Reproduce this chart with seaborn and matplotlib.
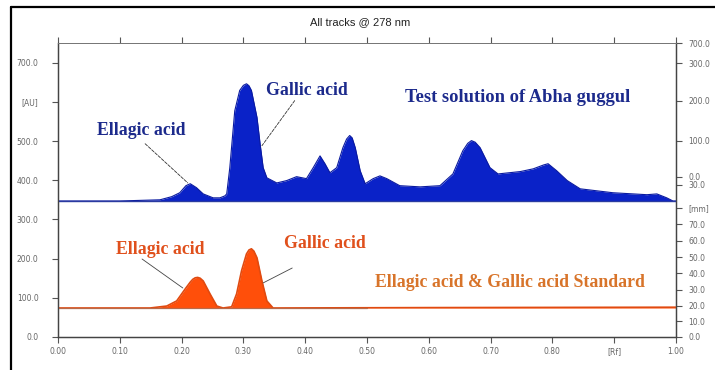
import matplotlib
matplotlib.use("Agg")
import matplotlib.pyplot as plt
import seaborn as sns
import pandas as pd
from matplotlib.lines import Line2D

# ---------------- data ----------------
title = "All tracks @ 278 nm"

blue_base = 347.0
blue_rf = [0.000, 0.100, 0.165, 0.184, 0.197, 0.207, 0.214, 0.224, 0.235, 0.251,
           0.262, 0.270, 0.273, 0.278, 0.286, 0.294, 0.300, 0.305, 0.309, 0.313,
           0.322, 0.327, 0.332, 0.338, 0.354, 0.370, 0.386, 0.402, 0.413, 0.424,
           0.432, 0.440, 0.451, 0.461, 0.467, 0.472, 0.476, 0.481, 0.489, 0.497,
           0.510, 0.521, 0.532, 0.553, 0.586, 0.618, 0.639, 0.655, 0.663, 0.669,
           0.675, 0.683, 0.699, 0.712, 0.748, 0.769, 0.786, 0.793, 0.807, 0.824,
           0.845, 0.898, 0.953, 0.969, 0.985, 0.995, 1.000]
blue_au = [347, 347, 350, 358, 368, 386, 391, 381, 365, 355,
           355, 360, 365, 432, 577, 629, 642, 646, 641, 629,
           560, 493, 432, 406, 393, 399, 409, 404, 432, 462,
           442, 419, 432, 483, 505, 514, 508, 483, 424, 391,
           404, 411, 404, 386, 383, 386, 416, 475, 494, 501,
           497, 483, 432, 416, 422, 429, 439, 442, 424, 399,
           378, 368, 363, 365, 355, 347, 347]

orange_base = 74.0
orange_rf = [0.000, 0.149, 0.165, 0.176, 0.192, 0.206, 0.214, 0.218, 0.222, 0.226,
             0.230, 0.235, 0.246, 0.257, 0.267, 0.281, 0.289, 0.297, 0.305, 0.309,
             0.313, 0.317, 0.322, 0.330, 0.338, 0.348, 0.600, 1.000]
orange_au = [74, 74, 77, 79, 92, 123, 140, 147, 151, 152,
             150, 143, 110, 79, 74, 77, 110, 169, 212, 222,
             225, 219, 202, 143, 92, 74, 75, 76]

x_ticks = [0.0, 0.1, 0.2, 0.3, 0.4, 0.5, 0.6, 0.7, 0.8, 0.9, 1.0]
x_labels = ["0.00", "0.10", "0.20", "0.30", "0.40", "0.50", "0.60", "0.70", "0.80", "[Rf]", "1.00"]
left_ticks = [0, 100, 200, 300, 400, 500, 600, 700]
left_labels = ["0.0", "100.0", "200.0", "300.0", "400.0", "500.0", "[AU]", "700.0"]
right_ticks = [0, 40, 80, 121, 163, 204, 246, 288, 330, 388, 409, 501, 603, 698, 750]
right_labels = ["0.0", "10.0", "20.0", "30.0", "40.0", "50.0", "60.0", "70.0", "[mm]", "30.0",
                "0.0", "100.0", "200.0", "300.0", "700.0"]

test_label = "Test solution of Abha guggul"
std_label = "Ellagic acid & Gallic acid Standard"

# label anchors (Rf, AU) and leader lines
blue_labels = [("Ellagic acid", 0.134, 526), ("Gallic acid", 0.403, 629)]
blue_leaders = [((0.141, 493), (0.210, 393)), ((0.383, 603), (0.330, 488))]
orange_labels = [("Ellagic acid", 0.165, 222), ("Gallic acid", 0.432, 238)]
orange_leaders = [((0.136, 199), (0.202, 125)), ((0.379, 176), (0.332, 138))]
test_pos = (0.743, 611)
std_pos = (0.732, 138)

# ---------------- styling ----------------
sns.set_theme(style="ticks")
plt.rcParams["font.family"] = ["DejaVu Sans"]

W, H = 715, 370
fig = plt.figure(figsize=(W / 100, H / 100), dpi=100)
fig.patch.set_facecolor("white")
ax = fig.add_axes([58 / W, (H - 337) / H, (676 - 58) / W, (337 - 43) / H])

blue_df = pd.DataFrame({"Rf": blue_rf, "AU": blue_au})
orange_df = pd.DataFrame({"Rf": orange_rf, "AU": orange_au})

blue_fill = "#0a22c8"
blue_edge = "#0a1aa0"
orange_fill = "#ff4f0a"
orange_edge = "#e04a10"

ax.fill_between(blue_df["Rf"], blue_base, blue_df["AU"], color=blue_fill, lw=0, zorder=2)
sns.lineplot(data=blue_df, x="Rf", y="AU", ax=ax, color=blue_edge, lw=0.8, zorder=3)
ax.axhline(blue_base, color="#2a3aa0", lw=1.0, zorder=3)

ax.fill_between(orange_df["Rf"], orange_base, orange_df["AU"], color=orange_fill, lw=0, zorder=2)
sns.lineplot(data=orange_df, x="Rf", y="AU", ax=ax, color=orange_edge, lw=1.2, zorder=3)
ax.axhline(orange_base, xmax=0.5, color="#b86a4a", lw=0.9, zorder=3)

ax.set_xlim(0, 1)
ax.set_ylim(0, 750)
ax.set_xlabel("")
ax.set_ylabel("")

tick_col = "#555555"
lab_col = "#666666"
ax.set_xticks(x_ticks)
ax.set_xticklabels(x_labels)
ax.set_yticks(left_ticks)
ax.set_yticklabels(left_labels)
ax.tick_params(axis="x", which="both", direction="out", length=4, width=0.8,
               colors=tick_col, labelcolor=lab_col, labelsize=5.5, pad=3,
               top=True, labeltop=False)
ax.tick_params(axis="y", direction="out", length=4, width=0.8,
               colors=tick_col, labelcolor=lab_col, labelsize=5.5, pad=10)

ax2 = ax.twinx()
ax2.set_ylim(0, 750)
ax2.set_yticks(right_ticks)
ax2.set_yticklabels(right_labels)
ax2.tick_params(axis="y", direction="out", length=4, width=0.8,
                colors=tick_col, labelcolor=lab_col, labelsize=5.5, pad=5)

for a in (ax, ax2):
    for name, sp in a.spines.items():
        sp.set_visible(True)
        sp.set_color("#444444")
        sp.set_linewidth(0.9)
    a.spines["top"].set_color("#777777")
    a.spines["top"].set_linewidth(0.7)

# title
fig.text(360 / W, 1 - 22 / H, title, ha="center", va="center", fontsize=8,
         color="#222222", family=["Liberation Sans", "DejaVu Sans"])

# annotations
serif = ["Liberation Serif", "DejaVu Serif"]
navy = "#1c2a8c"
orange_txt = "#e0501c"
std_txt = "#d8742a"
fs = 12.8

for txt, x, y in blue_labels:
    ax.text(x, y, txt, ha="center", va="center", fontsize=fs, fontweight="bold",
            color=navy, family=serif, zorder=5)
for (p0, p1) in blue_leaders:
    ax.annotate("", xy=p1, xytext=p0,
                arrowprops=dict(arrowstyle="-", color="#333333", lw=0.6, ls="--",
                                shrinkA=0, shrinkB=0))
for txt, x, y in orange_labels:
    ax.text(x, y, txt, ha="center", va="center", fontsize=fs, fontweight="bold",
            color=orange_txt, family=serif, zorder=5)
for (p0, p1) in orange_leaders:
    ax.annotate("", xy=p1, xytext=p0,
                arrowprops=dict(arrowstyle="-", color="#444444", lw=0.6,
                                shrinkA=0, shrinkB=0))

ax.text(test_pos[0], test_pos[1], test_label, ha="center", va="center", fontsize=13.3,
        fontweight="bold", color=navy, family=serif, zorder=5)
ax.text(std_pos[0], std_pos[1], std_label, ha="center", va="center", fontsize=fs,
        fontweight="bold", color=std_txt, family=serif, zorder=5)

# outer frame lines (top and left)
fig.add_artist(Line2D([11 / W, 1.0], [1 - 7 / H, 1 - 7 / H], transform=fig.transFigure,
                      color="black", lw=1.6))
fig.add_artist(Line2D([11 / W, 11 / W], [0, 1 - 7 / H], transform=fig.transFigure,
                      color="black", lw=1.6))

fig.savefig("out.png", dpi=100, facecolor="white")
